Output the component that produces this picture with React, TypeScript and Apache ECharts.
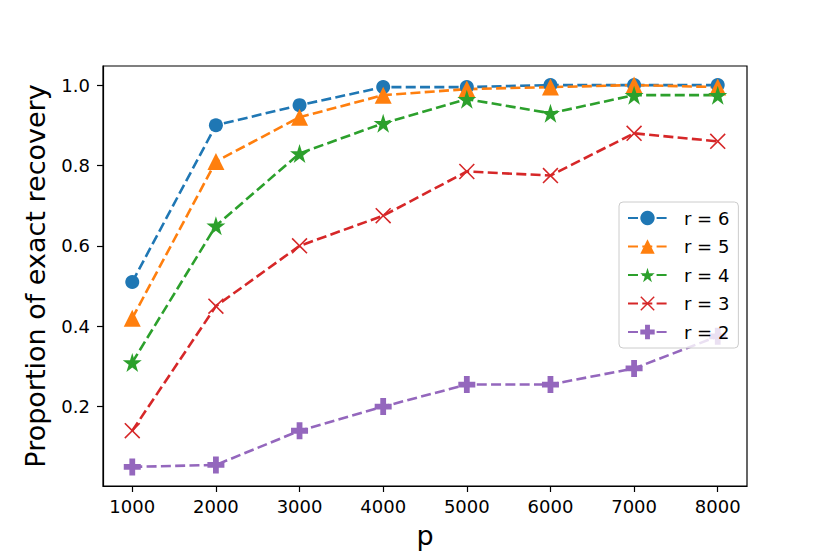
import React, { useEffect, useRef } from "react";
import * as echarts from "echarts";

const pValues = [1000, 2000, 3000, 4000, 5000, 6000, 7000, 8000];
const r6 = [0.51, 0.9, 0.95, 0.995, 0.995, 1.0, 1.0, 1.0];
const r5 = [0.42, 0.81, 0.92, 0.975, 0.99, 0.995, 1.0, 0.995];
const r4 = [0.31, 0.65, 0.83, 0.905, 0.965, 0.93, 0.975, 0.975];
const r3 = [0.14, 0.45, 0.6, 0.675, 0.785, 0.775, 0.88, 0.86];
const r2 = [0.05, 0.055, 0.14, 0.2, 0.255, 0.255, 0.295, 0.375];
const seriesNames = ["r = 6", "r = 5", "r = 4", "r = 3", "r = 2"];
const xTicks = [1000, 2000, 3000, 4000, 5000, 6000, 7000, 8000];
const yTicks = [0.2, 0.4, 0.6, 0.8, 1.0];

const STAR =
  "path://M50,0 L61.23,34.55 L97.55,34.55 L68.17,55.9 L79.39,90.45 L50,69.1 L20.61,90.45 L31.83,55.9 L2.45,34.55 L38.77,34.55 Z";
const XMARK =
  "path://M0,7 L7,0 L50,43 L93,0 L100,7 L57,50 L100,93 L93,100 L50,57 L7,100 L0,93 L43,50 Z";
const PLUS =
  "path://M33,0 L67,0 L67,33 L100,33 L100,67 L67,67 L67,100 L33,100 L33,67 L0,67 L0,33 L33,33 Z";

const FONT = "DejaVu Sans";

export default function App() {
  const ref = useRef<HTMLDivElement>(null);
  useEffect(() => {
    if (!ref.current) return;
    const chart = echarts.init(ref.current, null, { renderer: "svg" });
    const colors = ["#1f77b4", "#ff7f0e", "#2ca02c", "#d62728", "#9467bd"];
    const datas = [r6, r5, r4, r3, r2];
    const symbols = ["circle", "triangle", STAR, XMARK, PLUS];
    const sizes = [14, 17, 19, 16, 17];
    const series = datas.map((d, i) => ({
      name: seriesNames[i],
      type: "line",
      data: d.map((v, j) => [pValues[j], v]),
      symbol: symbols[i],
      symbolSize: sizes[i],
      showAllSymbol: true,
      lineStyle: { color: colors[i], width: 2.6, type: [10, 4.3] },
      itemStyle: { color: colors[i] },
      emphasis: { disabled: true },
      z: 2,
      zlevel: 0,
    }));
    chart.setOption({
      animation: false,
      backgroundColor: "#ffffff",
      grid: {
        left: 103,
        right: 83,
        top: 66,
        bottom: 68,
        show: true,
        borderColor: "#000",
        borderWidth: 1.2,
        containLabel: false,
      },
      legend: {
        orient: "vertical",
        left: 619,
        top: 202,
        z: 20,
        data: seriesNames,
        itemWidth: 39,
        itemHeight: 18,
        itemGap: 10.5,
        padding: [7, 9, 7, 8],
        backgroundColor: "rgba(255,255,255,0.8)",
        borderColor: "#cccccc",
        borderWidth: 1,
        borderRadius: 4,
        textStyle: { fontFamily: FONT, fontSize: 18, color: "#000", padding: [0, 0, 0, 12] },
      },
      xAxis: {
        type: "value",
        min: 650,
        max: 8350,
        name: "p",
        nameLocation: "middle",
        nameGap: 36,
        nameTextStyle: { fontFamily: FONT, fontSize: 27, color: "#000" },
        axisLine: { show: true, lineStyle: { color: "#000", width: 1.2 } },
        axisTick: {
          show: true,
          inside: false,
          length: 6,
          lineStyle: { color: "#000", width: 1.2 },
          customValues: xTicks,
        },
        axisLabel: {
          fontFamily: FONT,
          fontSize: 18,
          color: "#000",
          margin: 11,
          customValues: xTicks,
          formatter: (v: number) => String(v),
        },
        splitLine: { show: false },
      },
      yAxis: {
        type: "value",
        min: 0.0025,
        max: 1.0475,
        name: "Proportion of exact recovery",
        nameLocation: "middle",
        nameGap: 54,
        nameTextStyle: { fontFamily: FONT, fontSize: 27, color: "#000" },
        axisLine: { show: true, lineStyle: { color: "#000", width: 1.2 } },
        axisTick: {
          show: true,
          inside: false,
          length: 6,
          lineStyle: { color: "#000", width: 1.2 },
          customValues: yTicks,
        },
        axisLabel: {
          fontFamily: FONT,
          fontSize: 18,
          color: "#000",
          margin: 13,
          customValues: yTicks,
          formatter: (v: number) => v.toFixed(1),
        },
        splitLine: { show: false },
      },
      series,
    });
    return () => chart.dispose();
  }, []);
  return (
    <div
      ref={ref}
      style={{ position: "fixed", left: 0, top: 0, width: 830, height: 554 }}
    />
  );
}
